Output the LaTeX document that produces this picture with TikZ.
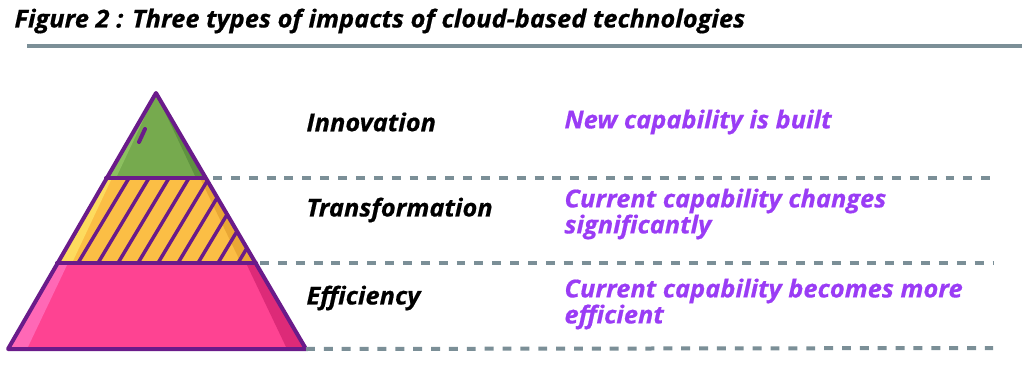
\documentclass[tikz,border=0pt]{standalone}
\usepackage{fontspec}
\setmainfont{Open Sans}
\newfontfamily\figfont[FakeStretch=1.03,FakeBold=0.6]{Open Sans}
\usetikzlibrary{positioning,calc}

\definecolor{rulegray}{HTML}{7B8F97}
\definecolor{pyrline}{HTML}{6A1B8A}
\definecolor{leafgreen}{HTML}{76AA4E}
\definecolor{leaflight}{HTML}{8CC060}
\definecolor{leafdark}{HTML}{5F9240}
\definecolor{amber}{HTML}{FBBE45}
\definecolor{amberlight}{HTML}{FDDB5E}
\definecolor{amberdark}{HTML}{E9A735}
\definecolor{rosepink}{HTML}{FE4392}
\definecolor{roselight}{HTML}{FF68B6}
\definecolor{rosedark}{HTML}{DD2A78}
\definecolor{impactviolet}{HTML}{9A3CF5}

\tikzset{every picture/.style={line width=0.75pt}}
\tikzset{
  levelname/.style={anchor=west,inner sep=0.75pt,font=\figfont\fontsize{18.5}{19.5}\selectfont\bfseries\itshape},
  impacttext/.style={anchor=west,inner sep=0.75pt,align=left,text=impactviolet,font=\figfont\fontsize{18.5}{19.5}\selectfont\bfseries\itshape},
  levelline/.style={rulegray,line width=3pt,dash pattern=on 6.7pt off 6.7pt},
  pyredge/.style={pyrline,line width=3pt,line join=round,line cap=round},
}

\begin{document}
\begin{tikzpicture}[x=0.75pt,y=0.75pt,yscale=-1]
\useasboundingbox (0,0) rectangle (1022,382);

%Title
\node (title) [anchor=west,inner sep=0pt,font=\figfont\fontsize{18.5}{20}\selectfont\bfseries\itshape] at (14,21) {Figure 2 : Three types of impacts of cloud-based technologies};
\draw [rulegray,line width=3pt] (27,45.5) -- (1022,45.5) ;

%Pyramid corners
\coordinate (apex) at (156,93);
\coordinate (topL) at (106,178);
\coordinate (topR) at (205,178);
\coordinate (midL) at (57,263);
\coordinate (midR) at (256,263);
\coordinate (baseL) at (8,349);
\coordinate (baseR) at (306,349);

%Innovation level
\fill [leafgreen] (apex) -- (topL) -- (topR) -- cycle ;
\fill [leaflight] (apex) -- (topL) -- (116,178) -- cycle ;
\fill [leafdark] (apex) -- (196,178) -- (topR) -- cycle ;
\draw [pyrline,line width=3pt,line cap=round] (145,129) -- (139,142) ;

%Transformation level
\fill [amber] (topL) -- (midL) -- (midR) -- (topR) -- cycle ;
\fill [amberlight] (topL) -- (midL) -- (72,263) -- (112,178) -- cycle ;
\fill [amberdark] (topR) -- (midR) -- (241,263) -- (200,178) -- cycle ;
\begin{scope}
\clip (topL) -- (midL) -- (midR) -- (topR) -- cycle ;
\foreach \hx in {78,98,...,238}
  \draw [pyrline,line width=2.6pt] (\hx,263) -- ++(51,-85) ;
\end{scope}

%Efficiency level
\fill [rosepink] (midL) -- (baseL) -- (baseR) -- (midR) -- cycle ;
\fill [roselight] (midL) -- (baseL) -- (27,349) -- (68,263) -- cycle ;
\fill [rosedark] (midR) -- (baseR) -- (287,349) -- (246,263) -- cycle ;

%Outlines
\draw [pyredge] (apex) -- (baseL) -- (baseR) -- cycle ;
\draw [pyredge] (topL) -- (topR) ;
\draw [pyredge] (midL) -- (midR) ;

%Dashed separators
\coordinate (sepA) at (993,178);
\coordinate (sepB) at (993,263);
\coordinate (sepC) at (993,348);
\draw [levelline] ($(topR)+(8,0)$) -- (sepA) ;
\draw [levelline] ($(midR)+(4,0)$) -- (sepB) ;
\draw [levelline] (baseR) -- (sepC) ;

%Labels
\node (innov) [levelname] at (305,122) {Innovation};
\node (transf) [levelname] at (305,210) {Transformation};
\node (effic) [levelname] at (305,298) {Efficiency};

\node (innovtxt) [impacttext] at (563,122) {New capability is built};
\node (transftxt) [impacttext] at (563,214) {Current capability changes\\significantly};
\node (efftxt) [impacttext] at (563,304) {Current capability becomes more\\efficient};

\end{tikzpicture}
\end{document}
